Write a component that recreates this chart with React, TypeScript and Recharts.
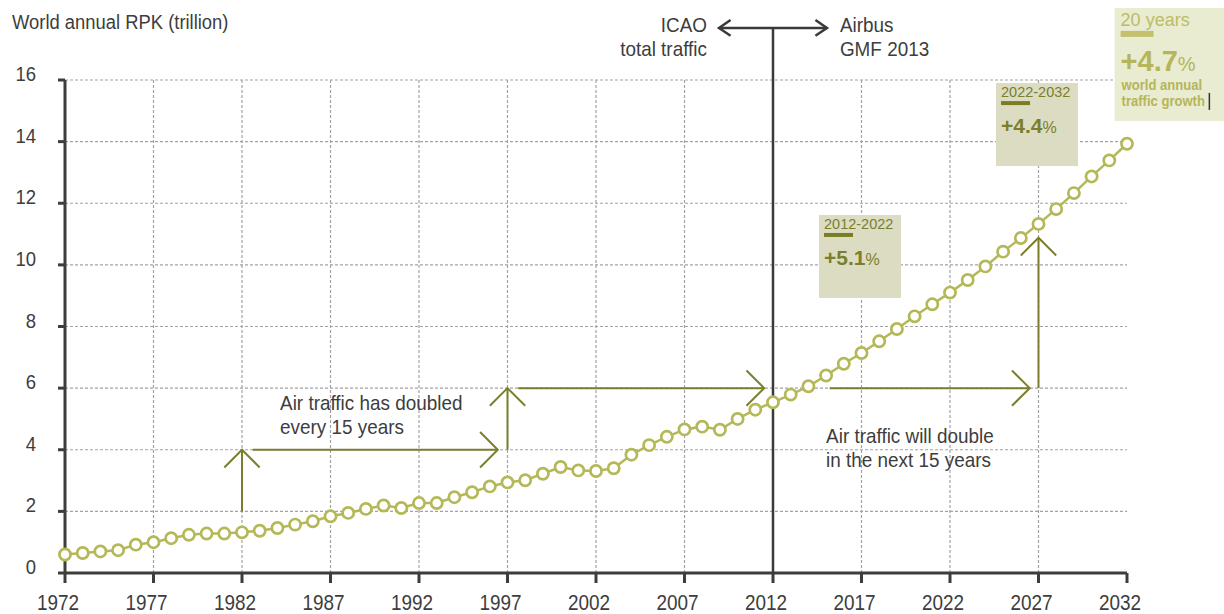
import React from "react";
import {
  LineChart,
  Line,
  XAxis,
  YAxis,
  CartesianGrid,
  ReferenceLine,
  ReferenceDot,
} from "recharts";

if (typeof document !== "undefined") document.body.style.margin = "0";

// ---------- data ----------
const years = [
  1972, 1973, 1974, 1975, 1976, 1977, 1978, 1979, 1980, 1981,
  1982, 1983, 1984, 1985, 1986, 1987, 1988, 1989, 1990, 1991,
  1992, 1993, 1994, 1995, 1996, 1997, 1998, 1999, 2000, 2001,
  2002, 2003, 2004, 2005, 2006, 2007, 2008, 2009, 2010, 2011,
  2012, 2013, 2014, 2015, 2016, 2017, 2018, 2019, 2020, 2021,
  2022, 2023, 2024, 2025, 2026, 2027, 2028, 2029, 2030, 2031,
  2032,
];

// world annual RPK, trillion
const rpk = [
  0.6, 0.65, 0.7, 0.74, 0.92, 1.0, 1.13, 1.24, 1.28, 1.28,
  1.32, 1.37, 1.46, 1.57, 1.68, 1.84, 1.95, 2.08, 2.19, 2.11,
  2.27, 2.27, 2.46, 2.62, 2.81, 2.94, 3.01, 3.22, 3.44, 3.33,
  3.31, 3.4, 3.84, 4.15, 4.42, 4.66, 4.75, 4.65, 5.0, 5.3,
  5.54, 5.79, 6.06, 6.41, 6.79, 7.14, 7.52, 7.92, 8.33, 8.72,
  9.1, 9.51, 9.95, 10.43, 10.87, 11.33, 11.81, 12.33, 12.87, 13.39,
  13.93,
];

const xTicks = [1972, 1977, 1982, 1987, 1992, 1997, 2002, 2007, 2012, 2017, 2022, 2027, 2032];
const yTicks = [0, 2, 4, 6, 8, 10, 12, 14, 16];
const gridYears = [1977, 1982, 1987, 1992, 1997, 2002, 2007, 2017, 2022, 2027];

const chartData = years.map((year, i) => ({ year, rpk: rpk[i] }));

// ---------- styles ----------
const FONT = "'Liberation Sans', Arial, Helvetica, sans-serif";
const DARK = "#3d3d3d";
const DOT = "#b4b857";
const OLIVE = "#7b7e2c";

// condensed look: squeeze Liberation Sans horizontally
const SText = ({ x, y, sx = 0.9, anchor = "start", children, ...rest }: any) => (
  <text
    transform={`translate(${x},${y}) scale(${sx},1)`}
    x={0}
    y={0}
    textAnchor={anchor}
    fontFamily={FONT}
    {...rest}
  >
    {children}
  </text>
);

const arrowShape = (color: string, width: number, len: number, spread: number, both = false) =>
  (p: any) => {
    const { x1, y1, x2, y2 } = p;
    const ang = Math.atan2(y2 - y1, x2 - x1);
    const head = (x: number, y: number, a: number) =>
      `M${x - len * Math.cos(a - spread)},${y - len * Math.sin(a - spread)} L${x},${y} L${x - len * Math.cos(a + spread)},${y - len * Math.sin(a + spread)}`;
    return (
      <g>
        <line x1={x1} y1={y1} x2={x2} y2={y2} stroke={color} strokeWidth={width} />
        <path d={head(x2, y2, ang)} fill="none" stroke={color} strokeWidth={width} />
        {both && <path d={head(x1, y1, ang + Math.PI)} fill="none" stroke={color} strokeWidth={width} />}
      </g>
    );
  };

const textBlock = (lines: string[], anchor: "start" | "end" = "start") => (p: any) => (
  <SText x={p.cx} y={p.cy} anchor={anchor} fontSize={21} fill={DARK}>
    {lines.map((l, i) => (
      <tspan key={i} x={0} dy={i === 0 ? 0 : 24}>
        {l}
      </tspan>
    ))}
  </SText>
);

const periodBox = (range: string, pct: string) => (p: any) => {
  const x = p.cx;
  const y = p.cy;
  return (
    <g>
      <rect x={x} y={y} width={82} height={83} fill="#dcdcc3" />
      <SText x={x + 5} y={y + 14} sx={1} fontSize={14.5} fill={OLIVE}>
        {range}
      </SText>
      <rect x={x + 5} y={y + 18} width={29} height={4} fill="#7b7d25" />
      <SText x={x + 5} y={y + 50} sx={1} fill={OLIVE}>
        <tspan fontSize={21} fontWeight="bold">{pct}</tspan>
        <tspan fontSize={16}>%</tspan>
      </SText>
    </g>
  );
};

const totalBox = (p: any) => {
  const x = p.cx;
  const y = p.cy;
  const c = "#b5b55a";
  return (
    <g>
      <rect x={x} y={y} width={120} height={113} fill="#e9ecd1" />
      <SText x={x + 6} y={y + 18} sx={1} fontSize={18} fill="#bcbc68">
        20 years
      </SText>
      <rect x={x + 6} y={y + 23} width={33} height={6} fill="#c4c06c" />
      <SText x={x + 6} y={y + 63} sx={1} fill={c}>
        <tspan fontSize={29} fontWeight="bold">+4.7</tspan>
        <tspan fontSize={20}>%</tspan>
      </SText>
      <SText x={x + 7} y={y + 82} sx={0.87} fontSize={15} fontWeight="bold" fill={c}>
        world annual
      </SText>
      <SText x={x + 7} y={y + 98} sx={0.87} fontSize={15} fontWeight="bold" fill={c}>
        traffic growth
      </SText>
      <rect x={x + 94} y={y + 85} width={1.5} height={17} fill="#333" />
    </g>
  );
};

const YTick = (p: any) => (
  <SText x={p.x - 20} y={p.y + 1} sx={0.88} anchor="end" fontSize={21} fill={DARK}>
    {p.payload.value}
  </SText>
);

const XTick = (p: any) => (
  <SText x={p.x - 7} y={p.y + 25} sx={0.86} anchor="middle" fontSize={22} fill={DARK}>
    {p.payload.value}
  </SText>
);

const App: React.FC = () => {
  return (
    <div style={{ position: "relative", width: 1224, height: 614, background: "#fff" }}>
      <div
        style={{
          position: "absolute",
          left: 12,
          top: 12,
          fontFamily: FONT,
          fontSize: 20,
          lineHeight: 1,
          color: DARK,
          whiteSpace: "nowrap",
          transform: "scaleX(0.92)",
          transformOrigin: "0 0",
        }}
      >
        World annual RPK (trillion)
      </div>
      <LineChart
        width={1224}
        height={614}
        data={chartData}
        margin={{ top: 80, right: 97, bottom: 0, left: 0 }}
      >
        <CartesianGrid vertical={false} stroke="#a3a3a3" strokeDasharray="3 2" strokeWidth={1.2} />
        {gridYears.map((yr) => (
          <ReferenceLine
            key={yr}
            x={yr}
            stroke="#a3a3a3"
            strokeDasharray="3 2"
            strokeWidth={1.2}
            zIndex={-50}
          />
        ))}
        <XAxis
          dataKey="year"
          type="number"
          domain={[1972, 2032]}
          ticks={xTicks}
          interval={0}
          height={41}
          tickSize={10}
          axisLine={{ stroke: DARK, strokeWidth: 3 }}
          tickLine={{ stroke: DARK, strokeWidth: 3 }}
          tick={<XTick />}
        />
        <YAxis
          domain={[0, 16]}
          ticks={yTicks}
          interval={0}
          width={65}
          tickSize={7}
          axisLine={{ stroke: DARK, strokeWidth: 3 }}
          tickLine={{ stroke: DARK, strokeWidth: 3 }}
          tick={<YTick />}
        />

        {/* ICAO / Airbus divider */}
        <ReferenceLine
          segment={[{ x: 2012, y: 0 }, { x: 2012, y: 17.69 }]}
          stroke="#3a3a3a"
          strokeWidth={2.5}
          ifOverflow="visible"
        />
        <ReferenceLine
          segment={[{ x: 2008.95, y: 17.69 }, { x: 2015.05, y: 17.69 }]}
          ifOverflow="visible"
          shape={arrowShape("#3a3a3a", 2.5, 14, 0.6, true)}
        />
        <ReferenceDot x={2008.27} y={17.56} ifOverflow="visible" shape={textBlock(["ICAO", "total traffic"], "end")} />
        <ReferenceDot x={2015.78} y={17.56} ifOverflow="visible" shape={textBlock(["Airbus", "GMF 2013"])} />

        {/* doubling arrows */}
        <ReferenceLine segment={[{ x: 1982, y: 2 }, { x: 1982, y: 4 }]} shape={arrowShape(OLIVE, 2, 25, Math.PI / 4)} />
        <ReferenceLine segment={[{ x: 1982.6, y: 4 }, { x: 1996.45, y: 4 }]} shape={arrowShape(OLIVE, 2, 25, Math.PI / 4)} />
        <ReferenceLine segment={[{ x: 1997, y: 4 }, { x: 1997, y: 6 }]} shape={arrowShape(OLIVE, 2, 25, Math.PI / 4)} />
        <ReferenceLine segment={[{ x: 1997.6, y: 6 }, { x: 2011.5, y: 6 }]} shape={arrowShape(OLIVE, 2, 25, Math.PI / 4)} />
        <ReferenceLine segment={[{ x: 2015.2, y: 6 }, { x: 2026.5, y: 6 }]} shape={arrowShape(OLIVE, 2, 25, Math.PI / 4)} />
        <ReferenceLine segment={[{ x: 2027, y: 6 }, { x: 2027, y: 10.88 }]} shape={arrowShape(OLIVE, 2, 25, Math.PI / 4)} />

        <ReferenceDot x={1984.15} y={5.29} shape={textBlock(["Air traffic has doubled", "every 15 years"])} />
        <ReferenceDot x={2015.0} y={4.22} shape={textBlock(["Air traffic will double", "in the next 15 years"])} />

        {/* growth boxes */}
        <ReferenceDot x={2014.6} y={11.62} ifOverflow="visible" shape={periodBox("2012-2022", "+5.1")} />
        <ReferenceDot x={2024.6} y={15.9} ifOverflow="visible" shape={periodBox("2022-2032", "+4.4")} />
        <ReferenceDot x={2031.3} y={18.34} ifOverflow="visible" shape={totalBox} />

        <Line
          dataKey="rpk"
          stroke={DOT}
          strokeWidth={2.5}
          dot={{ r: 5.6, fill: "#fff", stroke: DOT, strokeWidth: 2.7 }}
          isAnimationActive={false}
        />
      </LineChart>
    </div>
  );
};

export default App;
